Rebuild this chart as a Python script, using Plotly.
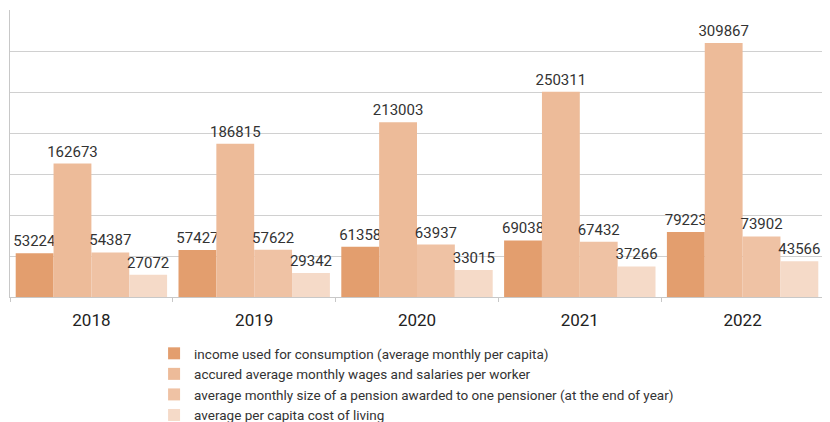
import plotly.graph_objects as go

years = ["2018", "2019", "2020", "2021", "2022"]
series_names = [
    "income used for consumption (average monthly per capita)",
    "accured average monthly wages and salaries per worker",
    "average monthly size of a pension awarded to one pensioner (at the end of year)",
    "average per capita cost of living",
]
income = [53224, 57427, 61358, 69038, 79223]
wages = [162673, 186815, 213003, 250311, 309867]
pension = [54387, 57622, 63937, 67432, 73902]
cost_of_living = [27072, 29342, 33015, 37266, 43566]
colors = ["#E39E6E", "#EDBB99", "#EFC2A4", "#F5DAC8"]

fig = go.Figure()
for name, vals, col in zip(series_names, [income, wages, pension, cost_of_living], colors):
    fig.add_trace(go.Bar(
        x=years, y=vals, name=name, marker_color=col, marker_line_width=0,
        text=[str(v) for v in vals], textposition="outside",
        textfont=dict(size=15, color="#333333", family="Roboto"),
        constraintext="none", cliponaxis=False,
    ))

# the page body has an 8px margin, so the figure is sized/placed to compensate
fig.update_layout(
    width=822, height=414,
    margin=dict(l=2, r=6, t=2, b=125, autoexpand=False),
    paper_bgcolor="white", plot_bgcolor="white",
    barmode="group", bargap=0.07, bargroupgap=0,
    font=dict(family="Roboto", color="#333333"),
    showlegend=True,
    legend=dict(
        orientation="v", x=0.177, xanchor="left", y=-0.143, yanchor="top",
        font=dict(size=13.5, color="#333333", family="Roboto"),
        tracegroupgap=0, bgcolor="rgba(0,0,0,0)",
    ),
    xaxis=dict(
        showline=True, linecolor="#C8C8C8", linewidth=1,
        ticks="outside", tickson="boundaries", ticklen=4, tickcolor="#C8C8C8",
        tickfont=dict(size=17, color="#222222"),
        ticklabelstandoff=8,
        showgrid=False, automargin=False,
    ),
    yaxis=dict(
        range=[0, 350000], dtick=50000, showticklabels=False,
        showgrid=True, gridcolor="#D0D0D0", gridwidth=1,
        showline=True, linecolor="#C8C8C8", linewidth=1,
        zeroline=False, ticks="", automargin=False,
    ),
)

fig.write_html("out.html")
